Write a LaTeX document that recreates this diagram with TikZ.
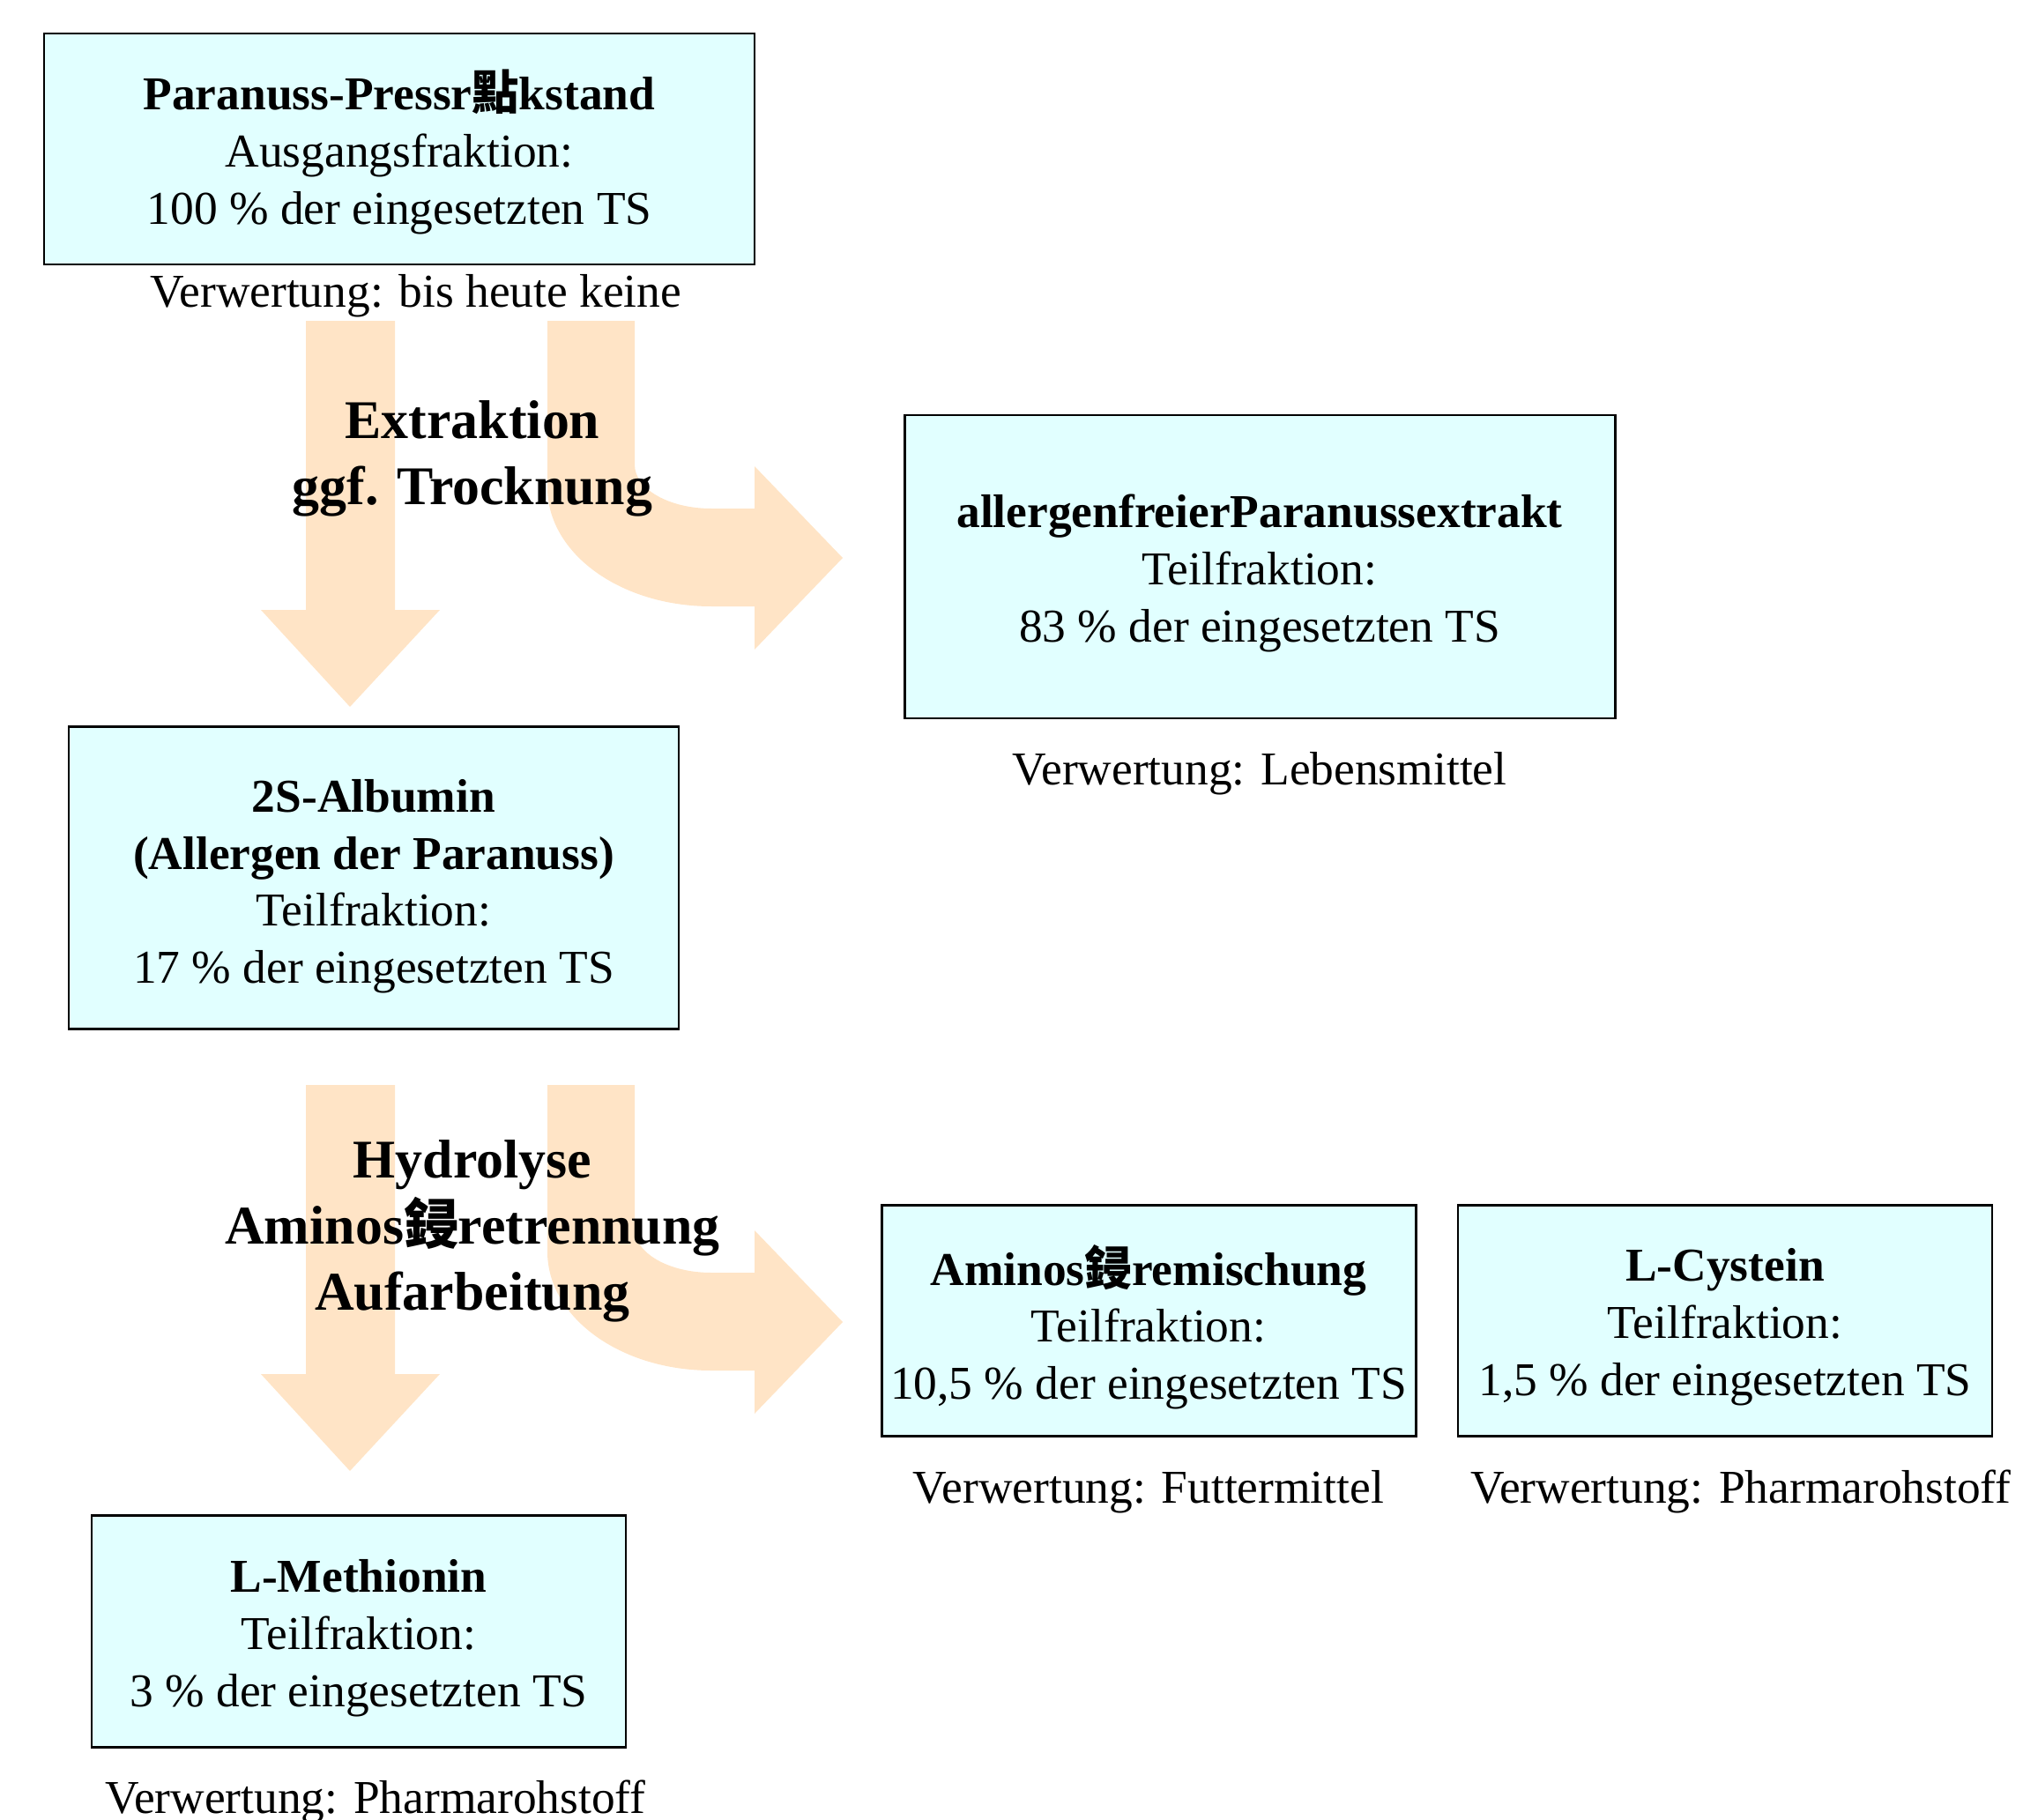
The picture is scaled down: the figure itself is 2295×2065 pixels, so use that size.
\documentclass[tikz,border=0pt]{standalone}
\usepackage{fontspec}
\setmainfont{Liberation Serif}
\newfontfamily\cjk{Noto Sans CJK SC}
\usetikzlibrary{positioning}
\definecolor{peach}{RGB}{255,228,198}
\definecolor{boxcyan}{RGB}{225,255,255}
\newcommand{\topline}[1][15pt]{\rule{0pt}{#1}}

\begin{document}
\begin{tikzpicture}[
    x=0.1mm, y=-0.1mm,
    font=\fontsize{15.2}{18.4}\selectfont,
    fraction/.style={rectangle, draw, line width=0.85pt, fill=boxcyan, align=center, inner sep=0pt},
    usage/.style={inner sep=0pt},
    stage/.style={align=center, inner sep=0pt, font=\fontsize{17.6}{21.4}\selectfont\bfseries},
    flow/.style={fill=peach, draw=none}
]
    \useasboundingbox (0,0) rectangle (2295,2065);

    % block arrows, second pair shifted down
    \foreach \dy in {0,867} {
        \begin{scope}[shift={(0,\dy)}]
            \fill[flow] (347,364) -- (448,364) -- (448,692) -- (499,692) -- (397,802)
                -- (296,692) -- (347,692) -- cycle;
            \fill[flow] (621,364) -- (720,364) -- (720,527)
                .. controls (720,555) and (759,577) .. (807,577) -- (856,577) -- (856,529)
                -- (956,633) -- (856,737) -- (856,688) -- (807,688)
                .. controls (704,688) and (621,628) .. (621,553) -- cycle;
        \end{scope}
    }

    \node[fraction, minimum width=80.6mm, minimum height=26.2mm] (raw) at (453,169)
        {\topline\textbf{Paranuss-Pressr{\cjk 點}kstand}\\Ausgangsfraktion:\\100 \% der eingesetzten TS};
    \node[usage, below=0.9mm of raw, xshift=1.9mm] (rawuse) {Verwertung: bis heute keine};

    \node[stage] (extraction) at (536,520) {Extraktion\\ggf. Trocknung};

    \node[fraction, minimum width=80.6mm, minimum height=34.4mm] (extract) at (1429,643)
        {\topline\textbf{allergenfreierParanussextrakt}\\Teilfraktion:\\83 \% der eingesetzten TS};
    \node[usage, below=3.6mm of extract] (extractuse) {Verwertung: Lebensmittel};

    \node[fraction, minimum width=69.2mm, minimum height=34.3mm] (albumin) at (424,996)
        {\topline[16pt]\textbf{2S-Albumin}\\\textbf{(Allergen der Paranuss)}\\Teilfraktion:\\17 \% der eingesetzten TS};

    \node[stage] (hydrolysis) at (536,1397) {Hydrolyse\\Aminos{\cjk 鋟}retrennung\\Aufarbeitung};

    \node[fraction, minimum width=60.6mm, minimum height=26.2mm] (amino) at (1303,1498)
        {\topline[17.4pt]\textbf{Aminos{\cjk 鋟}remischung}\\Teilfraktion:\\10,5 \% der eingesetzten TS};
    \node[fraction, minimum width=60.6mm, minimum height=26.2mm, right=4.5mm of amino] (cystein)
        {\topline\textbf{L-Cystein}\\Teilfraktion:\\1,5 \% der eingesetzten TS};
    \node[usage, below=3.7mm of amino] (aminouse) {Verwertung: Futtermittel};
    \node[usage, below=3.7mm of cystein, xshift=1.8mm] (cysteinuse) {Verwertung: Pharmarohstoff};

    \node[fraction, minimum width=60.6mm, minimum height=26.3mm] (methionin) at (407,1851)
        {\topline\textbf{L-Methionin}\\Teilfraktion:\\3 \% der eingesetzten TS};
    \node[usage, below=3.5mm of methionin, xshift=1.9mm] (methioninuse) {Verwertung: Pharmarohstoff};
\end{tikzpicture}
\end{document}
